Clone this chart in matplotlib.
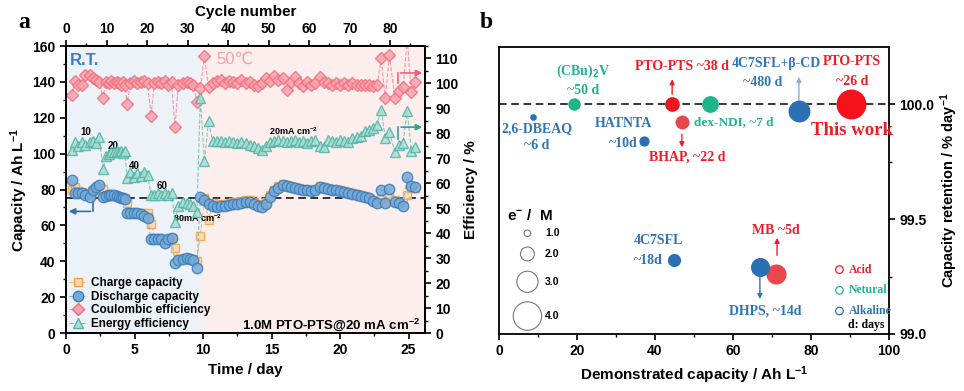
import numpy as np
import matplotlib
matplotlib.use("Agg")
import matplotlib.pyplot as plt
from matplotlib.lines import Line2D
from matplotlib.ticker import MultipleLocator, FormatStrFormatter

plt.rcParams["font.family"] = ["Liberation Sans", "DejaVu Sans"]
plt.rcParams["font.weight"] = "bold"
plt.rcParams["axes.labelweight"] = "bold"
plt.rcParams["mathtext.fontset"] = "custom"
plt.rcParams["mathtext.rm"] = "Liberation Sans:bold"
plt.rcParams["mathtext.bf"] = "Liberation Sans:bold"
plt.rcParams["mathtext.default"] = "bf"
plt.rcParams["axes.linewidth"] = 1.3

# ---------------- panel a : cycling at R.T. (10/20/40/60/80 mA cm-2) ----------------
t_rt = [0.4, 0.66, 0.9, 1.15, 1.4, 1.75, 2.0, 2.2, 2.43,
        2.7, 2.9, 3.1, 3.3, 3.5, 3.7, 3.85, 4.0, 4.15, 4.3,
        4.45, 4.7, 4.95, 5.2, 5.45, 5.7, 5.95,
        6.2, 6.45, 6.7, 6.95, 7.2, 7.45, 7.7,
        7.95, 8.2, 8.5, 8.8, 9.05, 9.3, 9.55]
chg_rt = [80, 81.5, 79, 78.5, 78, 77, 79, 80, 81,
          80.5, 77, 77, 77.5, 77, 76.5, 76, 76, 75.5, 75,
          72.5, 67.5, 67, 67, 67, 66, 67,
          60.5, 53, 53, 52.5, 51, 52, 53,
          47.5, 41, 41.5, 42, 41.5, 41, 40]
dis_rt = [85.5, 78, 78, 78, 77, 76, 80, 81.5, 82.5,
          76, 76.5, 77, 77, 77, 76.5, 76, 75.5, 75, 74.5,
          67, 67, 67, 67, 66.5, 65.5, 64,
          52.5, 52.5, 52.5, 52.5, 50, 52.5, 53,
          39, 40.5, 41.5, 42, 41.5, 40.5, 36.5]
ce_rt = [95.2, 100.8, 99.5, 99.2, 103.3, 103.5, 102, 101.2, 100.5,
         94.1, 100.5, 100, 101, 100, 100.5, 100, 99.5, 100.5, 99.5,
         91.9, 100, 101, 100, 100.5, 101, 100,
         87, 100, 100.5, 100, 101, 99.5, 100.5,
         82.6, 99.5, 100, 100.5, 100, 99.5, 92.5]
ee_rt = [73.5, 76.5, 75, 76.5, 75.5, 76.5, 77, 76, 78.5,
         65.7, 71, 71.7, 72.5, 72.5, 73, 72.5, 73, 72, 73,
         62, 64.5, 62.5, 64, 63, 64.5, 63.5,
         55.5, 55.5, 56, 55.5, 56, 55.5, 56,
         44.5, 51, 52.5, 52, 51.5, 51, 48.5]

# ---------------- panel a : cycling at 50 C (20 mA cm-2) ----------------
t_50 = [9.8, 10.1, 10.4, 10.7, 11.0, 11.3, 11.6, 11.9, 12.2, 12.5, 12.8, 13.1, 13.4,
        13.7, 14.0, 14.3, 14.6, 14.9, 15.2, 15.5, 15.8, 16.1, 16.4, 16.7, 17.0, 17.3,
        17.6, 17.9, 18.2, 18.5, 18.8, 19.1, 19.4, 19.7, 20.0, 20.3, 20.6, 20.9, 21.2,
        21.5, 21.8, 22.1, 22.4, 22.7, 23.0, 23.3, 23.6, 24.0, 24.3, 24.6, 24.9, 25.2, 25.5]
chg_50 = [54, 75, 63, 72.5, 71.5, 72, 72, 72.5, 73, 73, 73.5, 74, 74,
          73, 72, 71.5, 73, 77, 80, 82, 83, 82.5, 82, 81.5, 81, 80.5,
          80, 79.5, 80.5, 82, 81.5, 81, 80.5, 80, 79.5, 79, 78.5, 78, 77.5,
          77, 76.5, 75.5, 74, 73, 75, 73, 76, 74, 73, 73, 77, 81, 81]
dis_50 = [76, 74, 72, 71, 70.5, 71, 71, 71.5, 72, 72, 72.5, 73, 73,
          72, 71, 70.5, 72, 76, 79, 81, 82.5, 82, 81.5, 81, 80.5, 80,
          79.5, 79, 80, 81.5, 81, 80.5, 80, 79.5, 79, 78.5, 78, 77.5, 77,
          76.5, 76, 75, 73.5, 72.5, 80, 72.5, 80.5, 73, 72.5, 71, 87, 82, 81.5]
ce_50 = [98, 111, 98.5, 100, 101, 101.5, 100, 101, 100.5, 100, 101.5, 100, 100.5,
         99.5, 99, 100, 102, 101, 103, 101.5, 102, 97.5, 100.5, 102.5, 100, 99,
         100.5, 99.5, 100, 102.5, 100.5, 100, 99.5, 100, 99.5, 100, 99.5, 100, 99.5,
         99.5, 99.5, 99.5, 99, 99.5, 110, 94, 111.5, 94.2, 97, 98.5, 118, 96.5, 100.5]
ee_50 = [94, 69, 85, 77, 77, 77, 76.5, 77, 76.5, 76, 76.5, 76, 75.5,
         75, 74, 73.5, 75, 76.5, 77, 77.5, 77, 76.5, 77, 77.5, 76.5, 77,
         76, 77, 77.5, 75, 74.5, 77.5, 77, 76.5, 77.5, 77, 76.5, 78, 78.5,
         79, 81, 81.5, 82, 83.5, 89.5, 78, 80.5, 72.5, 75.5, 76, 89, 73, 74.5]

cycle_ticks = [0, 10, 20, 30, 40, 50, 60, 70, 80]

# ---------------- panel b : comparison ----------------
b_cap = [19.2, 8.7, 37.2, 44.4, 46.9, 54.1, 76.9, 90.2, 44.9, 71.0, 66.9]
b_ret = [100.0, 99.945, 99.84, 100.0, 99.923, 100.0, 99.97, 100.0, 99.32, 99.26, 99.29]
b_em = [1.8, 1.0, 1.5, 2.1, 2.0, 2.4, 3.1, 4.2, 1.9, 2.85, 2.7]
b_type = ["neutral", "alkaline", "alkaline", "acid", "acid2", "neutral",
          "alkaline", "thiswork", "alkaline", "acid2", "alkaline"]
legend_em = [1.0, 2.0, 3.0, 4.0]

type_col = {"acid": "#f0141e", "acid2": "#e8474c", "thiswork": "#f5121c",
            "neutral": "#1fb58a", "alkaline": "#2b70b4"}
RED, GREEN, BLUE = "#ee1c25", "#1fb58f", "#2e75b6"


def msize(m):
    d_px = 2 * (3.63 * m - 0.3)
    return (d_px * 0.72) ** 2


t = t_rt + t_50
cap_chg = chg_rt + chg_50
cap_dis = dis_rt + dis_50
ce = ce_rt + ce_50
ee = ee_rt + ee_50

fig = plt.figure(figsize=(9.64, 3.91), dpi=100)

# ======== panel a ========
ax = fig.add_axes([0.0685, 0.1483, 0.3724, 0.734])
ax.axvspan(0, 9.85, color="#edf1f8", lw=0)
ax.axvspan(9.85, 26.2, color="#fdeeee", lw=0)
ax.axhline(75, color="k", ls=(0, (5, 3)), lw=1.1, zorder=1)
ax.plot(t, cap_chg, ls="--", lw=0.8, color="#f7b469", marker="s", ms=6,
        mfc="#fcd9ae", mec="#f5a343", alpha=0.85, zorder=2)
ax.plot(t, cap_dis, ls="--", lw=0.8, color="#7ab0da", marker="o", ms=7.5,
        mfc="#76aad6", mec="#3a7dbd", alpha=0.85, zorder=3)
ax.set_xlim(0, 26.2)
ax.set_ylim(0, 160)
ax.xaxis.set_major_locator(MultipleLocator(5))
ax.xaxis.set_minor_locator(MultipleLocator(2.5))
ax.yaxis.set_major_locator(MultipleLocator(20))
ax.yaxis.set_minor_locator(MultipleLocator(10))
ax.set_xlabel("Time / day", fontsize=11)
ax.set_ylabel("Capacity / Ah L$^{-1}$", fontsize=11, labelpad=2)

ax2 = ax.twinx()
ax2.plot(t, ce, ls="--", lw=0.8, color="#f48a96", marker="D", ms=6.5,
         mfc="#f8a3ad", mec="#f2707f", alpha=0.85)
ax2.plot(t, ee, ls="--", lw=0.8, color="#6cc2b4", marker="^", ms=7.5,
         mfc="#a9ddd5", mec="#52b5a5", alpha=0.85)
ax2.set_ylim(0, 115)
ax2.yaxis.set_major_locator(MultipleLocator(10))
ax2.yaxis.set_minor_locator(MultipleLocator(5))
ax2.set_ylabel("Efficiency / %", fontsize=11)

ax3 = ax.twiny()
ax3.set_xlim(0, 88.6)
ax3.set_xticks(cycle_ticks)
ax3.xaxis.set_minor_locator(MultipleLocator(5))
ax3.set_xlabel("Cycle number", fontsize=11, labelpad=4)

for a in (ax, ax2, ax3):
    a.tick_params(which="major", direction="out", length=4, width=1.2, labelsize=10)
    a.tick_params(which="minor", direction="out", length=2.5, width=1)

# arrows pointing to the axes
ax.plot([2.0, 2.0], [73.5, 67.8], color="#2f6fa7", lw=1.2)
ax.annotate("", xy=(0, 67.8), xytext=(2.0, 67.8),
            arrowprops=dict(arrowstyle="-|>", color="#2f6fa7", lw=1.2, mutation_scale=9))
ax2.plot([24.2, 24.2], [100, 104.2], color="#f06070", lw=1.2)
ax2.annotate("", xy=(26.2, 104.2), xytext=(24.2, 104.2),
             arrowprops=dict(arrowstyle="-|>", color="#f06070", lw=1.2, mutation_scale=9))
ax2.plot([24.25, 24.25], [77.8, 82.5], color="#2aa596", lw=1.2)
ax2.annotate("", xy=(26.2, 82.5), xytext=(24.25, 82.5),
             arrowprops=dict(arrowstyle="-|>", color="#2aa596", lw=1.2, mutation_scale=9))

ax.text(0.25, 152, "R.T.", color="#3b7fc4", fontsize=12, va="center")
ax.text(11.0, 152.5, "50℃", color="#f7a1aa", fontsize=12, fontweight="normal",
        va="center", family=["Liberation Sans", "DejaVu Sans"])
ax.text(1.45, 112, "10", fontsize=7, ha="center", va="center")
ax.text(3.45, 104, "20", fontsize=7, ha="center", va="center")
ax.text(5.0, 93, "40", fontsize=7, ha="center", va="center")
ax.text(7.0, 82, "60", fontsize=7, ha="center", va="center")
ax.text(9.6, 63.8, "80mA cm$^{-2}$", fontsize=6.5, ha="center", va="center")
ax.text(16.6, 112.5, "20mA cm$^{-2}$", fontsize=6.5, ha="center", va="center")
ax.text(25.85, 4.5, "1.0M PTO-PTS@20 mA cm$^{-2}$", fontsize=9.5, ha="right", va="center")

handles = [
    Line2D([], [], ls="--", lw=0.8, color="#f7b469", marker="s", ms=6, mfc="#fcd9ae", mec="#f5a343"),
    Line2D([], [], ls="--", lw=0.8, color="#7ab0da", marker="o", ms=7.5, mfc="#76aad6", mec="#3a7dbd"),
    Line2D([], [], ls="--", lw=0.8, color="#f48a96", marker="D", ms=6.5, mfc="#f8a3ad", mec="#f2707f"),
    Line2D([], [], ls="--", lw=0.8, color="#6cc2b4", marker="^", ms=7.5, mfc="#a9ddd5", mec="#52b5a5"),
]
labels = ["Charge capacity", "Discharge capacity", "Coulombic efficiency", "Energy efficiency"]
ax2.legend(handles, labels, loc="lower left", frameon=False, fontsize=8.5,
           handlelength=1.5, handletextpad=0.4, labelspacing=0.14, borderaxespad=0.05,
           borderpad=0.2)

# ======== panel b ========
bx = fig.add_axes([0.5176, 0.1458, 0.4046, 0.734])
bx.set_xlim(0, 100)
bx.set_ylim(99.0, 100.248)
bx.axhline(100.0, color="k", ls=(0, (5, 3)), lw=1.1, zorder=1)
for x, y, m, k in zip(b_cap, b_ret, b_em, b_type):
    bx.scatter(x, y, s=msize(m), color=type_col[k], lw=0, zorder=3)

serif = dict(family=["Liberation Serif", "DejaVu Serif"], fontweight="bold", ha="center", va="center")
bx.text(21.5, 100.143, "(CBu)$_2$V", color=GREEN, fontsize=10, **serif)
bx.text(21.5, 100.061, "~50 d", color=GREEN, fontsize=10, **serif)
bx.text(9.7, 99.893, "2,6-DBEAQ", color=BLUE, fontsize=10, **serif)
bx.text(9.7, 99.82, "~6 d", color=BLUE, fontsize=10, **serif)
bx.text(32.0, 99.916, "HATNTA", color=BLUE, fontsize=10, **serif)
bx.text(31.8, 99.83, "~10d", color=BLUE, fontsize=10, **serif)
bx.text(47.0, 100.165, "PTO-PTS ~38 d", color=RED, fontsize=10, **serif)
bx.text(48.2, 99.768, "BHAP, ~22 d", color=RED, fontsize=10, **serif)
bx.text(60.2, 99.923, "dex-NDI, ~7 d", color=GREEN, fontsize=9.5, **serif)
bx.text(71.2, 100.177, "4C7SFL+β-CD", color=BLUE, fontsize=10, **serif)
bx.text(67.7, 100.093, "~480 d", color=BLUE, fontsize=10, **serif)
bx.text(90.6, 100.183, "PTO-PTS", color=RED, fontsize=10, **serif)
bx.text(90.6, 100.097, "~26 d", color=RED, fontsize=10, **serif)
bx.text(90.6, 99.883, "This work", color=RED, fontsize=13.5, **serif)
bx.text(40.8, 99.405, "4C7SFL", color=BLUE, fontsize=10, **serif)
bx.text(38.3, 99.32, "~18d", color=BLUE, fontsize=10, **serif)
bx.text(71.0, 99.45, "MB ~5d", color=RED, fontsize=10, **serif)
bx.text(68.2, 99.10, "DHPS, ~14d", color=BLUE, fontsize=10, **serif)

arrow_specs = [(44.4, 100.03, 100.12, RED), (46.9, 99.88, 99.80, RED),
               (76.9, 100.0, 100.13, "#86afd8"), (71.3, 99.33, 99.43, RED),
               (66.9, 99.27, 99.14, BLUE)]
for x, y0, y1, c in arrow_specs:
    bx.annotate("", xy=(x, y1), xytext=(x, y0),
                arrowprops=dict(arrowstyle="-|>", color=c, lw=1.0, mutation_scale=7), zorder=2)

# size legend
bx.text(2.0, 99.517, "e$^{-}$ /  M", fontsize=11, va="center")
for m, y in zip(legend_em, [99.438, 99.348, 99.227, 99.078]):
    bx.scatter(7.3, y, s=msize(m), facecolor="none", edgecolor="#777777", lw=0.8)
    bx.text(11.8, y, "%.1f" % m, fontsize=7.5, va="center")

# type legend
for lab, c, y in [("Acid", RED, 99.28), ("Netural", GREEN, 99.19), ("Alkaline", BLUE, 99.10)]:
    bx.scatter(87.3, y, s=30, facecolor="none", edgecolor=c, lw=0.9)
    bx.text(89.6, y, lab, color=c, fontsize=8.5, family=["Liberation Serif", "DejaVu Serif"],
            fontweight="bold", va="center")
bx.text(89.6, 99.04, "d: days", color="k", fontsize=8.5, family=["Liberation Serif", "DejaVu Serif"],
        fontweight="bold", va="center")

bx.yaxis.tick_right()
bx.yaxis.set_label_position("right")
bx.set_yticks([99.0, 99.5, 100.0])
bx.yaxis.set_minor_locator(MultipleLocator(0.25))
bx.yaxis.set_major_formatter(FormatStrFormatter("%.1f"))
bx.xaxis.set_major_locator(MultipleLocator(20))
bx.xaxis.set_minor_locator(MultipleLocator(10))
bx.tick_params(which="major", direction="out", length=4, width=1.2, labelsize=10)
bx.tick_params(which="minor", direction="out", length=2.5, width=1)
bx.set_xlabel("Demonstrated capacity / Ah L$^{-1}$", fontsize=11)
bx.set_ylabel("Capacity retention / % day$^{-1}$", fontsize=10.5, labelpad=3)

fig.text(18 / 964, 1 - 22 / 391, "a", fontsize=17, fontweight="bold",
         family=["Liberation Serif", "DejaVu Serif"], va="center")
fig.text(480 / 964, 1 - 22 / 391, "b", fontsize=17, fontweight="bold",
         family=["Liberation Serif", "DejaVu Serif"], va="center")

fig.savefig("out.png", dpi=100)
